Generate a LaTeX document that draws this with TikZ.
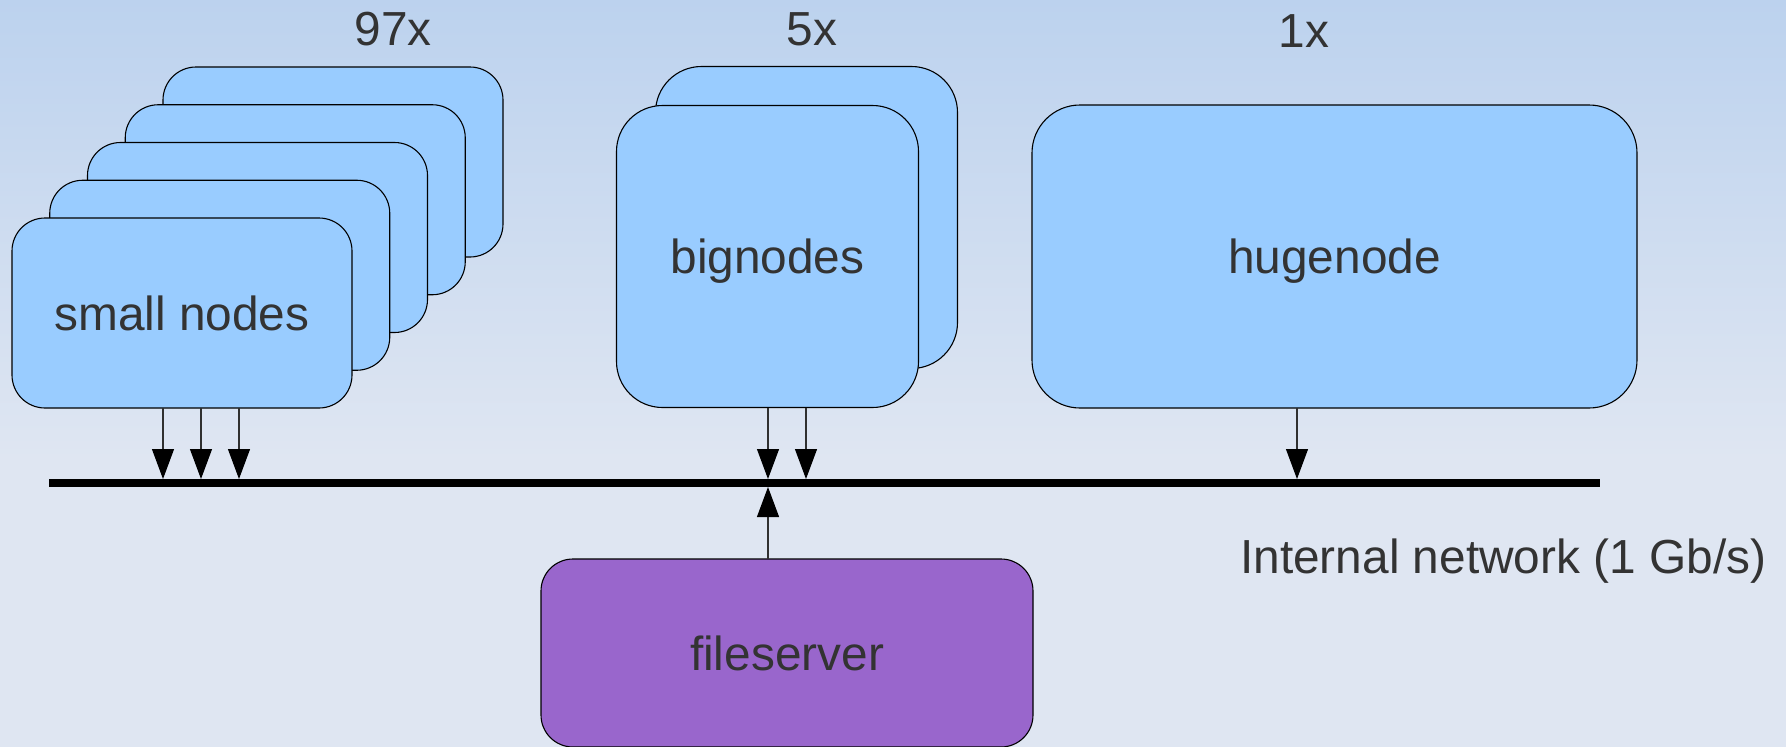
\documentclass[tikz,border=0pt]{standalone}
\usepackage{fontspec}
\setmainfont{Liberation Sans}
\usetikzlibrary{arrows.meta}
\definecolor{bgtop}{HTML}{BCD2EE}
\definecolor{bgbot}{HTML}{DFE6F2}
\definecolor{nodeblue}{HTML}{99CCFF}
\definecolor{filepurple}{HTML}{9966CC}
\definecolor{txt}{HTML}{333333}
\definecolor{wire}{HTML}{303030}
\begin{document}
\begin{tikzpicture}[x=1pt,y=-1pt,
  bigfont/.style={text=txt, font=\fontsize{47.8pt}{57pt}\selectfont},
  box/.style={draw=black, line width=1.1pt, fill=nodeblue, inner sep=0pt, outer sep=0pt,
    bigfont, text height=34pt, text depth=0pt},
  smallbox/.style={box, minimum width=340pt, minimum height=190pt, rounded corners=33pt},
  bigbox/.style={box, minimum width=302pt, minimum height=302pt, rounded corners=46pt},
  conn/.style={draw=wire, line width=1.1pt, -{Triangle[length=30pt,width=22pt,black]}},
  lbl/.style={bigfont, inner sep=0pt, anchor=base}]
% background
\useasboundingbox (0,0) rectangle (1786,747);
\begin{scope}
\clip (0,0) rectangle (1786,747);
\fill[bgbot] (0,0) rectangle (1786,747);
\shade[top color=bgtop, bottom color=bgbot] (0,0) rectangle (1786,460);

% small nodes stack
\node[smallbox] (sn4) at (333,162) {};
\node[smallbox] (sn3) at (295.25,199.75) {};
\node[smallbox] (sn2) at (257.5,237.5) {};
\node[smallbox] (sn1) at (219.75,275.25) {};
\node[smallbox] (sn0) at (182,313) {small nodes};

% big nodes
\node[bigbox] (bn1) at (806.5,217.5) {};
\node[bigbox] (bn0) at (767.5,256.5) {bignodes};

% huge node
\node[box, minimum width=605pt, minimum height=303pt, rounded corners=48pt] (hn) at (1334.5,256.5) {hugenode};

% fileserver
\node[box, fill=filepurple, minimum width=492pt, minimum height=188pt, rounded corners=32pt] (fs) at (787,653) {fileserver};

% network bus
\node[fill=black, minimum width=1551pt, minimum height=8pt, inner sep=0pt, outer sep=0pt] (bus) at (824.5,483) {};

% labels
\node[lbl] (l97) at (393,45) {97x};
\node[lbl] (l5) at (812,45) {5x};
\node[lbl] (l1) at (1304,47) {1x};
\node[lbl, anchor=base west] (net) at (1240,573) {Internal network (1 Gb/s)};

% connector x positions
\coordinate (x1) at (163,0);
\coordinate (x2) at (201,0);
\coordinate (x3) at (239,0);
\coordinate (x4) at (768,0);
\coordinate (x5) at (806,0);
\coordinate (x6) at (1297,0);

\draw[conn] (sn0.south -| x1) -- (bus.north -| x1);
\draw[conn] (sn0.south -| x2) -- (bus.north -| x2);
\draw[conn] (sn0.south -| x3) -- (bus.north -| x3);
\draw[conn] (bn0.south -| x4) -- (bus.north -| x4);
\draw[conn] (bn0.south -| x5) -- (bus.north -| x5);
\draw[conn] (hn.south -| x6) -- (bus.north -| x6);
\draw[conn] (fs.north -| x4) -- (bus.south -| x4);
\end{scope}
\end{tikzpicture}
\end{document}
